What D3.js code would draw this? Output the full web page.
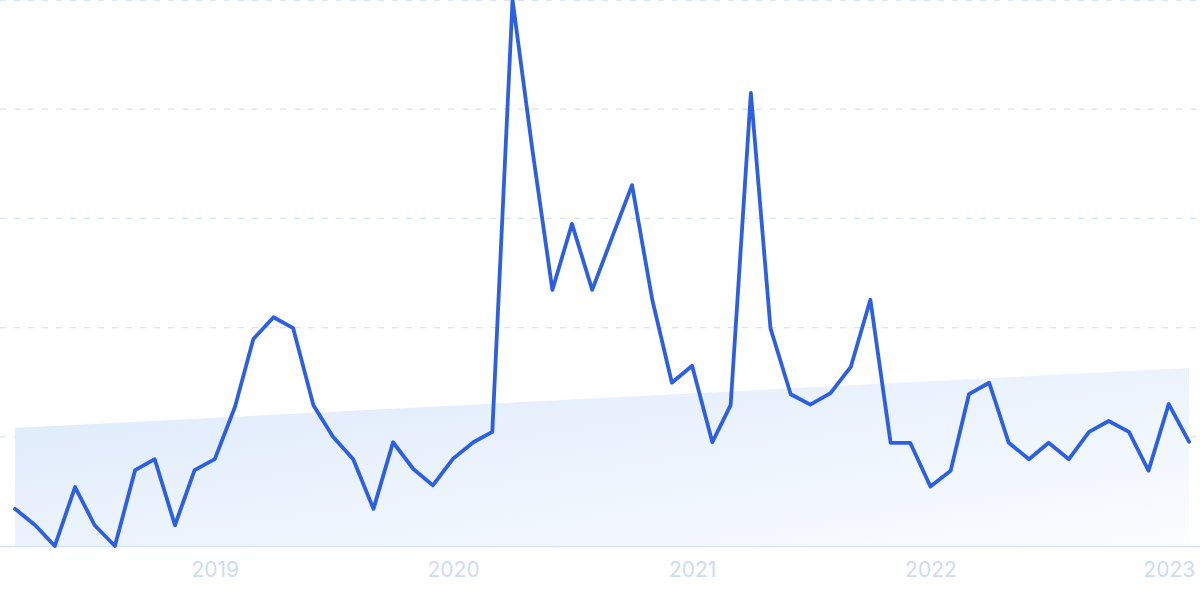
<!DOCTYPE html>
<html>
<head>
<meta charset="utf-8">
<script src="https://cdn.jsdelivr.net/npm/d3@7"></script>
<style>
html,body{margin:0;padding:0;background:#fff;}
svg{display:block;}
</style>
</head>
<body>
<svg id="chart" width="1200" height="599"></svg>
<script>
const startMonth = "2018-03";
const values = [6.8,3.8,0,10.8,3.8,0,13.9,15.9,3.8,13.9,
  15.9,25.5,37.9,41.9,39.9,25.8,20.0,15.9,6.8,19.0,
  14.1,11.1,16.0,19.0,20.9,100,72.9,46.9,59.0,46.9,
  56.7,66.1,45.1,29.9,33.0,19.0,25.8,83.0,39.9,27.8,
  25.9,28.0,32.8,45.1,18.9,18.9,10.9,13.8,27.8,29.9,
  18.9,15.9,18.9,15.9,20.9,22.9,20.9,13.8,26.0,19.1];
const trendValues = [21.6, 32.6];
const yTicks = [0,20,40,60,80,100];
const xTickLabels = ["2019","2020","2021","2022","2023"];

const W = 1200, H = 599;
const svg = d3.select("#chart");
const parse = d3.timeParse("%Y-%m");
const start = parse(startMonth);
const dates = values.map((v,i) => d3.timeMonth.offset(start, i));
const data = values.map((v,i) => ({date: dates[i], value: v}));

const x = d3.scaleTime().domain([dates[0], dates[dates.length-1]]).range([15, 1189]);
const y = d3.scaleLinear().domain([0,100]).range([546, 0]);

const defs = svg.append("defs");
const grad = defs.append("linearGradient").attr("id","trendGrad")
  .attr("x1","0").attr("y1","0").attr("x2","1").attr("y2","1");
grad.append("stop").attr("offset","0%").attr("stop-color","#dce9fb");
grad.append("stop").attr("offset","100%").attr("stop-color","#fbfdff");

// gridlines
svg.append("g").selectAll("line").data(yTicks.filter(t => t > 0)).join("line")
  .attr("x1", 0).attr("x2", W)
  .attr("y1", d => Math.max(0.5, y(d))).attr("y2", d => Math.max(0.5, y(d)))
  .attr("stroke", "#d6e4f9").attr("stroke-width", 1.2)
  .attr("stroke-dasharray", "6 8");

// trend band
const trendData = [
  {date: dates[0], value: trendValues[0]},
  {date: dates[dates.length-1], value: trendValues[1]}
];
const band = d3.area().x(d => x(d.date)).y0(y(0)).y1(d => y(d.value));
svg.append("path").datum(trendData).attr("d", band).attr("fill", "url(#trendGrad)");

// baseline
svg.append("line").attr("x1", 0).attr("x2", W)
  .attr("y1", y(0) + 0.5).attr("y2", y(0) + 0.5)
  .attr("stroke", "#d5e5f8").attr("stroke-width", 1.5);

// line
const line = d3.line().x(d => x(d.date)).y(d => y(d.value));
svg.append("path").datum(data).attr("d", line)
  .attr("fill", "none").attr("stroke", "#2d5fe2")
  .attr("stroke-width", 3.8).attr("stroke-linejoin", "round").attr("stroke-linecap", "round");

// x axis labels
const xAxis = d3.axisBottom(x)
  .tickValues(xTickLabels.map(s => d3.timeParse("%Y")(s)))
  .tickFormat(d3.timeFormat("%Y"))
  .tickSize(0).tickPadding(0);
const gx = svg.append("g").attr("transform", `translate(0, 562)`).call(xAxis);
gx.select(".domain").remove();
gx.selectAll("text")
  .attr("dy", "0.71em")
  .attr("fill", "#cfdbf5")
  .style("font-family", "Inter, 'Noto Sans', sans-serif")
  .style("font-size", "21px");
</script>
</body>
</html>
